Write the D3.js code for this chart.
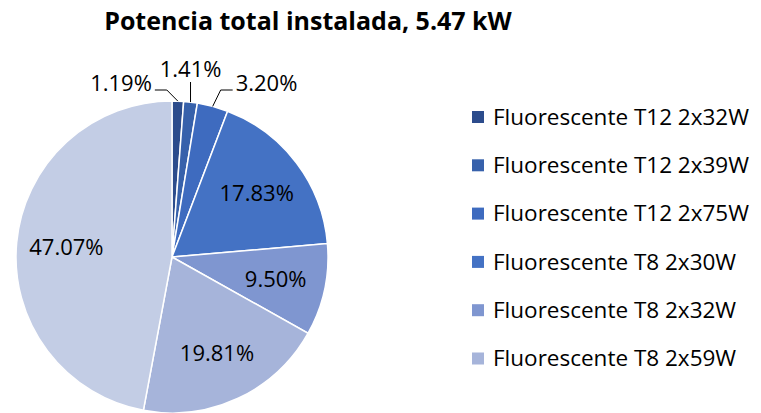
<!DOCTYPE html>
<html>
<head>
<meta charset="utf-8">
<script src="https://cdn.jsdelivr.net/npm/d3@7"></script>
<style>
  body { margin: 0; background: #fff; }
  svg text { font-family: "Open Sans", "Noto Sans", sans-serif; fill: #000; }
</style>
</head>
<body>
<div id="chart"></div>
<script>
// datos (porcentaje de potencia por tipo de luminaria)
var categories = [
    "Fluorescente T12 2x32W",
    "Fluorescente T12 2x39W",
    "Fluorescente T12 2x75W",
    "Fluorescente T8 2x30W",
    "Fluorescente T8 2x32W",
    "Fluorescente T8 2x59W",
    "Otros"
];
var values = [1.19, 1.41, 3.20, 17.83, 9.50, 19.81, 47.07];
var colors = ["#2c4c8c", "#3761ab", "#3e6bbf", "#4472c4", "#7f96d0", "#a6b4da", "#c3cde5"];
var legendCount = 6; // la leyenda original solo muestra 6 entradas
var title = "Potencia total instalada, 5.47 kW";

var width = 761, height = 413;
var cx = 172, cy = 257, radius = 156;

var svg = d3.select("#chart")
    .append("svg")
    .attr("width", width)
    .attr("height", height);

svg.append("text")
    .attr("x", 308)
    .attr("y", 30)
    .attr("text-anchor", "middle")
    .attr("font-size", "25px")
    .attr("font-weight", "bold")
    .text(title);

var pie = d3.pie().sort(null).value(function(d){ return d; });
var arcs = pie(values);

var arc = d3.arc().innerRadius(0).outerRadius(radius);
var labelArc = d3.arc().innerRadius(radius * 0.68).outerRadius(radius * 0.68);
var edgeArc = d3.arc().innerRadius(radius).outerRadius(radius);

var g = svg.append("g").attr("transform", "translate(" + cx + "," + cy + ")");

g.selectAll("path")
    .data(arcs)
    .enter()
    .append("path")
    .attr("d", arc)
    .attr("fill", function(d, i){ return colors[i]; })
    .attr("stroke", "#fff")
    .attr("stroke-width", 1.5);

var fmt = function(v){ return v.toFixed(2) + "%"; };

// etiquetas dentro de las porciones grandes
g.selectAll("text.inside")
    .data(arcs.filter(function(d){ return d.data >= 5; }))
    .enter()
    .append("text")
    .attr("class", "inside")
    .attr("transform", function(d){ return "translate(" + labelArc.centroid(d) + ")"; })
    .attr("text-anchor", "middle")
    .attr("dy", "0.35em")
    .attr("font-size", "22px")
    .text(function(d){ return fmt(d.data); });

// etiquetas afuera con lineas guia (porciones chicas)
var small = arcs.filter(function(d){ return d.data < 5; });
var elbowY = -radius - 11;
small.forEach(function(d, k){
    var p = edgeArc.centroid(d);
    var side = k === 0 ? -1 : (k === small.length - 1 ? 1 : 0);
    var pts, tx, anchor, ty;
    if(side === 0){
        pts = [p, [p[0], elbowY - 8]];
        tx = p[0]; ty = elbowY - 13; anchor = "middle";
    }else{
        var ex = p[0] + side * (side < 0 ? 11 : 8);
        pts = [p, [ex, elbowY], [ex + side * 12, elbowY]];
        tx = ex + side * 15; ty = elbowY + 1; anchor = side < 0 ? "end" : "start";
    }
    g.append("polyline")
        .attr("points", pts.map(function(q){ return q.join(","); }).join(" "))
        .attr("fill", "none")
        .attr("stroke", "#000")
        .attr("stroke-width", 1);
    g.append("text")
        .attr("x", tx)
        .attr("y", ty)
        .attr("text-anchor", anchor)
        .attr("font-size", "22px")
        .text(fmt(d.data));
});

// leyenda
var legend = svg.append("g").attr("transform", "translate(472,117)");
var rows = legend.selectAll("g")
    .data(categories.slice(0, legendCount))
    .enter()
    .append("g")
    .attr("transform", function(d, i){ return "translate(0," + (i * 48.3) + ")"; });

rows.append("rect")
    .attr("x", 0)
    .attr("y", -6)
    .attr("width", 12)
    .attr("height", 12)
    .attr("fill", function(d, i){ return colors[i]; });

rows.append("text")
    .attr("x", 21)
    .attr("dy", "0.35em")
    .attr("font-size", "22.5px")
    .text(function(d){ return d; });
</script>
</body>
</html>
